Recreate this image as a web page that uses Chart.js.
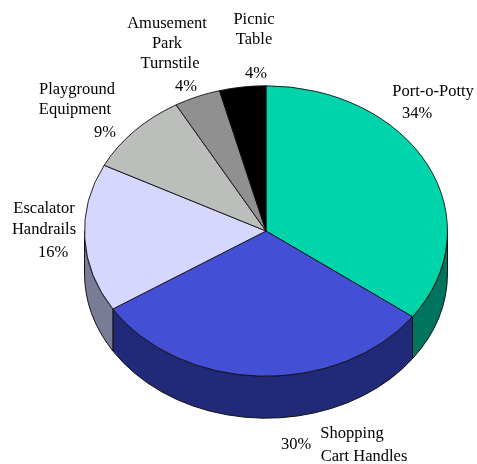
<!DOCTYPE html>
<html>
<head>
<meta charset="utf-8">
<style>html,body{margin:0;padding:0;background:#fff}#w{width:477px;height:464px;position:relative}canvas{display:block}</style>
<script src="https://cdn.jsdelivr.net/npm/chart.js@4"></script>
</head>
<body>
<div id="w"><canvas id="c" width="477" height="464"></canvas></div>
<script>
const categories = ["Port-o-Potty","Shopping Cart Handles","Escalator Handrails","Playground Equipment","Amusement Park Turnstile","Picnic Table"];
const values = [34,30,16,9,4,4];
const categoryLines = [["Port-o-Potty"],["Shopping","Cart Handles"],["Escalator","Handrails"],["Playground","Equipment"],["Amusement","Park","Turnstile"],["Picnic","Table"]];
const topColors = ["#00D4AA","#4350D6","#D5D7FF","#BCBEBC","#8F908F","#000000"];
const sideColors = ["#00745E","#212A78","#7A7B96","#6E706E","#555555","#000000"];
// centre x / centre y of each text line; the last entry of each is the percent label
const labelLayout = [
  [[433,92],[417,114]],
  [[352,434],[364,457],[296,445]],
  [[44,209],[44,230],[53,253]],
  [[77,90],[75,110],[105,133]],
  [[167,24],[167,44],[170,64],[186,87]],
  [[254,20],[254,40],[256,74]]
];
const squash = 0.8, depth = 42;

const pie3d = {
  id:'pie3d',
  beforeDatasetsDraw(chart){
    const ctx = chart.ctx, arcs = chart.getDatasetMeta(0).data;
    ctx.save();
    arcs.forEach((a,i)=>{
      const p = a.getProps(['x','y','startAngle','endAngle','outerRadius'],true);
      const s = Math.max(p.startAngle,0), e = Math.min(p.endAngle,Math.PI);
      if (e<=s) return;
      const ry = p.outerRadius*squash;
      ctx.beginPath();
      ctx.ellipse(p.x,p.y,p.outerRadius,ry,0,s,e);
      ctx.ellipse(p.x,p.y+depth,p.outerRadius,ry,0,e,s,true);
      ctx.closePath();
      ctx.fillStyle = sideColors[i];
      ctx.fill();
      ctx.lineWidth = 1; ctx.strokeStyle = '#111';
      ctx.stroke();
    });
    ctx.restore();
    const a0 = arcs[0];
    ctx.save();
    ctx.translate(a0.x,a0.y); ctx.scale(1,squash); ctx.translate(-a0.x,-a0.y);
  },
  afterDatasetsDraw(chart){
    const ctx = chart.ctx;
    ctx.restore();
    ctx.save();
    ctx.font = '16.5px "Liberation Serif"';
    ctx.fillStyle = '#000';
    ctx.textAlign = 'center';
    ctx.textBaseline = 'middle';
    categoryLines.forEach((lines,i)=>{
      const texts = lines.concat([values[i]+'%']);
      texts.forEach((t,j)=>{ const q = labelLayout[i][j]; ctx.fillText(t,q[0],q[1]); });
    });
    ctx.restore();
  }
};

new Chart(document.getElementById('c'),{
  type:'pie',
  data:{labels:categories,datasets:[{data:values,backgroundColor:topColors,borderColor:'#111',borderWidth:1,borderAlign:'center'}]},
  options:{
    responsive:false,animation:false,
    layout:{padding:{left:84,right:29,top:49,bottom:51}},
    plugins:{legend:{display:false},tooltip:{enabled:false}},
    events:[]
  },
  plugins:[pie3d]
});
</script>
</body>
</html>
